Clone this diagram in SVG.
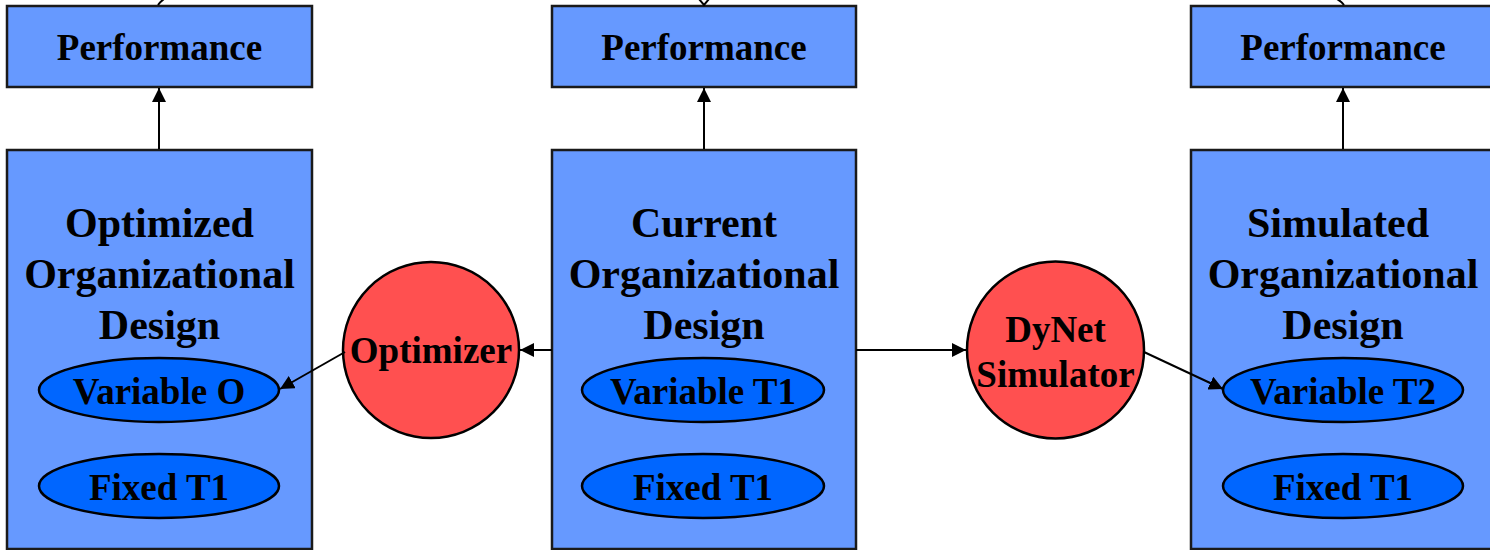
<svg xmlns="http://www.w3.org/2000/svg" width="1490" height="550" viewBox="0 0 1490 550">
<defs>
<style>
.box{fill:#6699FF;stroke:#1a1a1a;stroke-width:2.5}
.ell{fill:#0066FF;stroke:#000;stroke-width:2.5}
.cir{fill:#FF5050;stroke:#000;stroke-width:2.5}
.t{font-family:"Liberation Serif","Times New Roman",serif;font-weight:bold;fill:#000;text-anchor:middle}
.s37{font-size:37px}
.s42{font-size:42px}
.edge{fill:none;stroke:#000;stroke-width:2}
</style>
<marker id="ah" viewBox="0 0 10 10" refX="10" refY="5" markerWidth="7" markerHeight="7" markerUnits="strokeWidth" orient="auto">
<path d="M0,0 L10,5 L0,10 Z" fill="#000"/>
</marker>
</defs>
<rect width="1490" height="550" fill="#fff"/>
<g id="perf-left">
<rect class="box" x="7" y="6" width="305" height="81"/>
<text class="t s37" x="159.5" y="60">Performance</text>
</g>
<g id="perf-mid">
<rect class="box" x="552" y="6" width="304" height="81"/>
<text class="t s37" x="704" y="60">Performance</text>
</g>
<g id="perf-right">
<rect class="box" x="1191" y="6" width="305" height="81"/>
<text class="t s37" x="1343" y="60">Performance</text>
</g>
<g id="design-left">
<rect class="box" x="7" y="150" width="305" height="399"/>
<text class="t s42" x="159.5" y="237">Optimized</text>
<text class="t s42" x="159.5" y="288">Organizational</text>
<text class="t s42" x="159.5" y="339">Design</text>
</g>
<g id="var-o">
<ellipse class="ell" cx="159" cy="390" rx="120" ry="32"/>
<text class="t s37" x="159" y="404">Variable O</text>
</g>
<g id="fixed-left">
<ellipse class="ell" cx="159" cy="486" rx="120" ry="32"/>
<text class="t s37" x="159" y="500">Fixed T1</text>
</g>
<g id="design-mid">
<rect class="box" x="552" y="150" width="304" height="399"/>
<text class="t s42" x="704" y="237">Current</text>
<text class="t s42" x="704" y="288">Organizational</text>
<text class="t s42" x="704" y="339">Design</text>
</g>
<g id="var-t1">
<ellipse class="ell" cx="703" cy="390" rx="121" ry="32"/>
<text class="t s37" x="703" y="404">Variable T1</text>
</g>
<g id="fixed-mid">
<ellipse class="ell" cx="703" cy="486" rx="121" ry="32"/>
<text class="t s37" x="703" y="500">Fixed T1</text>
</g>
<g id="design-right">
<rect class="box" x="1191" y="150" width="305" height="399"/>
<text class="t s42" x="1338" y="237">Simulated</text>
<text class="t s42" x="1343" y="288">Organizational</text>
<text class="t s42" x="1343" y="339">Design</text>
</g>
<g id="var-t2">
<ellipse class="ell" cx="1343" cy="390" rx="120" ry="32"/>
<text class="t s37" x="1343" y="404">Variable T2</text>
</g>
<g id="fixed-right">
<ellipse class="ell" cx="1343" cy="486" rx="120" ry="32"/>
<text class="t s37" x="1343" y="500">Fixed T1</text>
</g>
<g id="optimizer">
<circle class="cir" cx="431" cy="350" r="88"/>
<text class="t s37" x="431" y="363">Optimizer</text>
</g>
<g id="dynet">
<circle class="cir" cx="1055.5" cy="350" r="88.5"/>
<text class="t s37" x="1055.5" y="342">DyNet</text>
<text class="t s37" x="1055.5" y="387">Simulator</text>
</g>
<g id="connectors">
<line class="edge" x1="159" y1="149" x2="159" y2="88" marker-end="url(#ah)"/>
<line class="edge" x1="704" y1="149" x2="704" y2="88" marker-end="url(#ah)"/>
<line class="edge" x1="1343" y1="149" x2="1343" y2="88" marker-end="url(#ah)"/>
<line class="edge" x1="552" y1="350" x2="520" y2="350" marker-end="url(#ah)"/>
<line class="edge" x1="345" y1="352" x2="280" y2="389" marker-end="url(#ah)"/>
<line class="edge" x1="856" y1="350" x2="966" y2="350" marker-end="url(#ah)"/>
<line class="edge" x1="1144" y1="352" x2="1223" y2="389" marker-end="url(#ah)"/>
<path class="edge" d="M158,5 Q160,2 164,-1"/>
<path class="edge" d="M699,-1 L704,5 L709,-1"/>
<path class="edge" d="M1344,5 Q1342,2 1337,-1"/>
</g>
</svg>
